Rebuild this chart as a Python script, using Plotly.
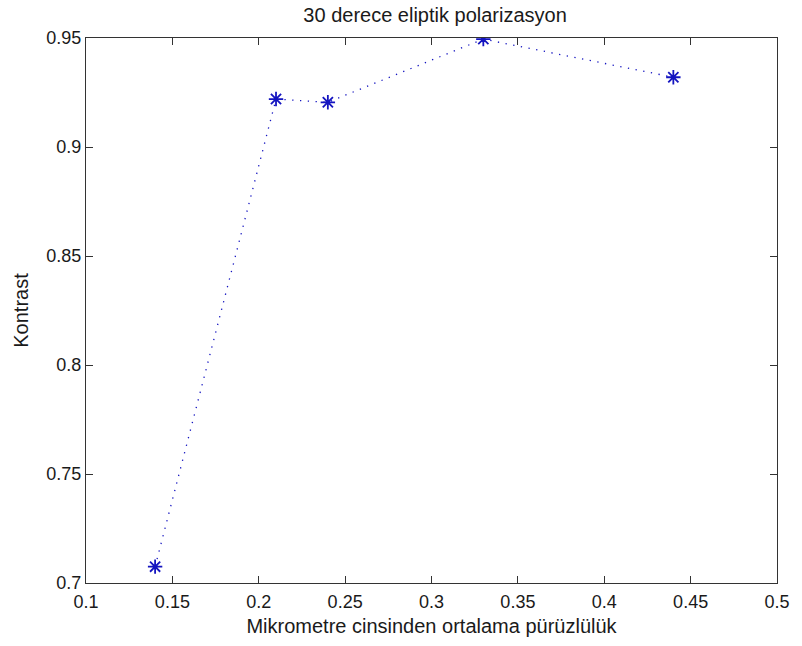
import plotly.graph_objects as go

roughness = [0.14, 0.21, 0.24, 0.33, 0.44]
contrast = [0.7075, 0.922, 0.9205, 0.9495, 0.932]
x_ticks = [0.1, 0.15, 0.2, 0.25, 0.3, 0.35, 0.4, 0.45, 0.5]
x_tick_text = ["0.1", "0.15", "0.2", "0.25", "0.3", "0.35", "0.4", "0.45", "0.5"]
y_ticks = [0.7, 0.75, 0.8, 0.85, 0.9, 0.95]
y_tick_text = ["0.7", "0.75", "0.8", "0.85", "0.9", "0.95"]

FONT = "Liberation Sans, Arial, sans-serif"
BLUE = "#1414c0"
TXT = "#1a1a1a"

fig = go.Figure()
fig.add_trace(go.Scatter(
    x=roughness, y=contrast, mode="lines+markers",
    line=dict(color=BLUE, width=1.3, dash="1.3px,6.5px"),
    marker=dict(symbol="asterisk-open", size=12, color=BLUE,
                line=dict(color=BLUE, width=1.8)),
    showlegend=False,
))

axis_common = dict(
    showgrid=False, zeroline=False, showline=True, mirror="ticks",
    linecolor="#333333", linewidth=1.4,
    ticks="inside", ticklen=7, tickwidth=1.3, tickcolor="#333333",
    tickfont=dict(family=FONT, size=18, color=TXT),
)

fig.update_layout(
    width=802, height=646,
    margin=dict(l=86, r=18, t=38, b=61),
    paper_bgcolor="white", plot_bgcolor="white",
    title=dict(text="30 derece eliptik polarizasyon", x=0.5425, xanchor="center",
               y=1 - 15 / 646, yanchor="middle",
               font=dict(family=FONT, size=20, color=TXT)),
    xaxis=dict(range=[0.1, 0.5], tickvals=x_ticks, ticktext=x_tick_text,
               ticklabelstandoff=2,
               title=dict(text="Mikrometre cinsinden ortalama pürüzlülük",
                          font=dict(family=FONT, size=20, color=TXT),
                          standoff=8),
               **axis_common),
    yaxis=dict(range=[0.7, 0.95], tickvals=y_ticks, ticktext=y_tick_text,
               title=dict(text="Kontrast",
                          font=dict(family=FONT, size=20, color=TXT),
                          standoff=12),
               **axis_common),
)

fig.write_html("out.html")
